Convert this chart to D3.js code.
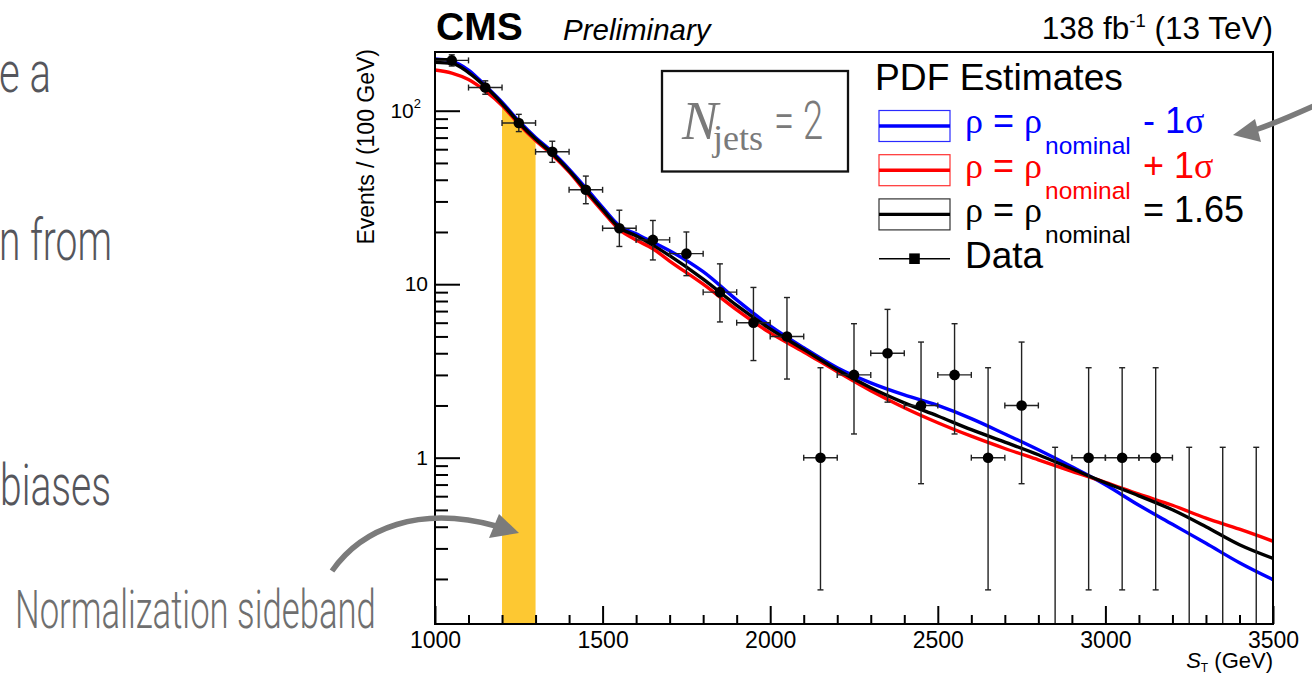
<!DOCTYPE html>
<html>
<head>
<meta charset="utf-8">
<script src="https://cdn.jsdelivr.net/npm/d3@7"></script>
<style>
  html, body { margin: 0; padding: 0; background: #fff; overflow: hidden; }
  svg { display: block; }
</style>
</head>
<body>
<svg id="chart" width="1312" height="677"></svg>
<script>
// ---- data ---------------------------------------------------------------
// Observed events per 100 GeV bin of S_T
const binCenters = [1050, 1150, 1250, 1350, 1450, 1550, 1650, 1750, 1850, 1950,
                    2050, 2150, 2250, 2350, 2450, 2550, 2650, 2750, 2850, 2950,
                    3050, 3150, 3250, 3350, 3450];
const counts     = [195, 136, 85, 58, 35, 21, 18, 15, 9, 6,
                    5, 1, 3, 4, 2, 3, 1, 2, 0, 1,
                    1, 1, 0, 0, 0];
// Poisson (Garwood) interval edges for each bin
const countLow   = [181.0, 124.4, 75.8, 50.4, 29.1, 16.5, 13.8, 11.2, 6.06, 3.63,
                    2.84, 0.173, 1.37, 2.09, 0.708, 1.37, 0.173, 0.708, 0, 0.173,
                    0.173, 0.173, 0, 0, 0];
const countHigh  = [210.0, 148.7, 95.3, 66.7, 42.0, 26.7, 23.3, 20.0, 13.1, 9.58,
                    8.38, 3.30, 5.92, 7.16, 4.64, 5.92, 3.30, 4.64, 1.148, 3.30,
                    3.30, 3.30, 1.148, 1.148, 1.148];
const binHalfWidth = 50;

// PDF estimates sampled along S_T
const fitX = [1000, 1050, 1100, 1150, 1200, 1250, 1300, 1350, 1400, 1450, 1500,
              1550, 1600, 1650, 1700, 1800, 1900, 2000, 2100, 2200, 2300, 2400,
              2500, 2600, 2700, 2800, 2900, 3000, 3100, 3200, 3300, 3400, 3500];
const pdfMinus1Sigma = [198.6, 193.3, 171.6, 139.7, 112.2, 87.2, 70.1, 57.8, 46.1, 35.9, 27.7,
                        21.7, 19.5, 17.5, 15.6, 11.8, 8.12, 5.75, 4.30, 3.30, 2.70, 2.30,
                        2.00, 1.68, 1.37, 1.11, 0.886, 0.698, 0.532, 0.413, 0.321, 0.248, 0.198];
const pdfPlus1Sigma  = [171.6, 164.9, 151.2, 129.9, 107.2, 83.8, 67.3, 55.6, 44.4, 34.0, 26.3,
                        20.6, 18.0, 16.0, 13.6, 10.0, 7.11, 5.24, 4.07, 3.13, 2.43, 1.94,
                        1.59, 1.33, 1.13, 0.972, 0.835, 0.722, 0.616, 0.532, 0.448, 0.387, 0.330];
const pdfNominal     = [190.0, 187.7, 166.0, 137.8, 110.0, 85.5, 68.7, 56.7, 45.2, 34.9, 27.0,
                        21.2, 19.0, 16.8, 14.6, 10.7, 7.55, 5.53, 4.21, 3.21, 2.53, 2.07,
                        1.74, 1.45, 1.23, 1.04, 0.863, 0.717, 0.603, 0.501, 0.400, 0.315, 0.263];

const sidebandRange = [1200, 1300];

const xMajorTicks = [1000, 1500, 2000, 2500, 3000, 3500];
const xMinorTicks = d3.range(1100, 3500, 100).filter(v => v % 500 !== 0);
const yMajorTicks = [1, 10, 100];
const yMinorTicks = [0.2, 0.3, 0.4, 0.5, 0.6, 0.7, 0.8, 0.9,
                     2, 3, 4, 5, 6, 7, 8, 9,
                     20, 30, 40, 50, 60, 70, 80, 90, 200];

const legendEntries = [
  { color: "#0000ff", box: "#2a2aff", suffix: "- 1", greek: "σ" },
  { color: "#ff0000", box: "#ff3030", suffix: "+ 1", greek: "σ" },
  { color: "#000000", box: "#333333", suffix: "= 1.65", greek: "" }
];

// ---- layout -------------------------------------------------------------
const frame = { left: 435, right: 1273, top: 52, bottom: 624 };
const SANS = "'Liberation Sans', Arial, Helvetica, sans-serif";
const SERIF = "'Liberation Serif', 'Times New Roman', serif";
const SLIDE = "Roboto, 'Noto Sans', sans-serif";

const svg = d3.select("#chart");
svg.append("rect").attr("width", 1312).attr("height", 677).attr("fill", "#fff");

const x = d3.scaleLinear().domain([1000, 3500]).range([frame.left, frame.right]);
const y = d3.scaleLog().domain([0.11, 218]).range([frame.bottom, frame.top]);

svg.append("defs").append("clipPath").attr("id", "plotClip")
  .append("rect")
  .attr("x", frame.left).attr("y", frame.top)
  .attr("width", frame.right - frame.left).attr("height", frame.bottom - frame.top);

const plot = svg.append("g").attr("clip-path", "url(#plotClip)");

// normalization sideband, filled under the nominal estimate
const fitPts = (vals) => fitX.map((xv, i) => [xv, vals[i]]);
const sbPts = fitPts(pdfNominal).filter(d => d[0] >= sidebandRange[0] && d[0] <= sidebandRange[1]);
plot.append("path")
  .datum(sbPts)
  .attr("fill", "#fdc832")
  .attr("d", d3.area()
    .x(d => x(d[0]))
    .y0(frame.bottom)
    .y1(d => y(d[1]))
    .curve(d3.curveMonotoneX));

// PDF estimate curves
const line = d3.line().x(d => x(d[0])).y(d => y(d[1])).curve(d3.curveMonotoneX);
[[pdfMinus1Sigma, "#0000ff"], [pdfPlus1Sigma, "#ff0000"], [pdfNominal, "#000000"]]
  .forEach(([vals, col]) => {
    plot.append("path")
      .datum(fitPts(vals))
      .attr("fill", "none")
      .attr("stroke", col)
      .attr("stroke-width", 3.4)
      .attr("stroke-linejoin", "round")
      .attr("d", line);
  });

// data with error bars
const dataG = svg.append("g").attr("stroke", "#222").attr("stroke-width", 1.4);
const bins = binCenters.map((c, i) => ({ c, n: counts[i], lo: countLow[i], hi: countHigh[i] }));
const cap = 3;
bins.forEach(b => {
  const cx = x(b.c);
  const yTop = y(b.hi);
  const yBot = b.lo > 0 ? y(b.lo) : frame.bottom;
  dataG.append("line").attr("x1", cx).attr("x2", cx).attr("y1", yTop).attr("y2", yBot);
  dataG.append("line").attr("x1", cx - cap).attr("x2", cx + cap).attr("y1", yTop).attr("y2", yTop);
  if (b.lo > 0) {
    dataG.append("line").attr("x1", cx - cap).attr("x2", cx + cap).attr("y1", yBot).attr("y2", yBot);
  }
  if (b.n > 0) {
    const cy = y(b.n);
    const xl = x(b.c - binHalfWidth), xr = x(b.c + binHalfWidth);
    dataG.append("line").attr("x1", xl).attr("x2", xr).attr("y1", cy).attr("y2", cy);
    dataG.append("line").attr("x1", xl).attr("x2", xl).attr("y1", cy - cap).attr("y2", cy + cap);
    dataG.append("line").attr("x1", xr).attr("x2", xr).attr("y1", cy - cap).attr("y2", cy + cap);
  }
});
svg.append("g").selectAll("circle")
  .data(bins.filter(b => b.n > 0))
  .join("circle")
  .attr("cx", d => x(d.c))
  .attr("cy", d => y(d.n))
  .attr("r", 5.3)
  .attr("fill", "#000");

// ---- axes ---------------------------------------------------------------
function styleAxis(g) {
  g.select(".domain").remove();
  g.selectAll(".tick line").attr("stroke", "#000").attr("stroke-width", 2);
  g.selectAll(".tick text").attr("fill", "#000").attr("font-family", SANS);
}
function minorAxis(g) {
  styleAxis(g);
  g.selectAll(".tick text").remove();
}

const xAxisG = svg.append("g")
  .attr("transform", `translate(0,${frame.bottom})`)
  .call(d3.axisBottom(x).tickValues(xMajorTicks).tickSize(-18).tickSizeOuter(0)
        .tickPadding(8).tickFormat(d3.format("d")))
  .call(styleAxis);
xAxisG.selectAll(".tick text").attr("font-size", 23);

svg.append("g")
  .attr("transform", `translate(0,${frame.bottom})`)
  .call(d3.axisBottom(x).tickValues(xMinorTicks).tickSize(-9).tickSizeOuter(0))
  .call(minorAxis);

const yAxisG = svg.append("g")
  .attr("transform", `translate(${frame.left},0)`)
  .call(d3.axisLeft(y).tickValues(yMajorTicks).tickSize(-25).tickSizeOuter(0)
        .tickPadding(7).tickFormat(d => d === 100 ? "10" : d3.format("d")(d)))
  .call(styleAxis);
yAxisG.selectAll(".tick text").attr("font-size", 21);
yAxisG.selectAll(".tick").filter(d => d === 100).select("text")
  .attr("x", -14)
  .append("tspan").attr("font-size", 13).attr("dy", "-0.75em").text("2");

svg.append("g")
  .attr("transform", `translate(${frame.left},0)`)
  .call(d3.axisLeft(y).tickValues(yMinorTicks).tickSize(-13).tickSizeOuter(0))
  .call(minorAxis);

// frame
svg.append("rect")
  .attr("x", frame.left).attr("y", frame.top)
  .attr("width", frame.right - frame.left).attr("height", frame.bottom - frame.top)
  .attr("fill", "none").attr("stroke", "#000").attr("stroke-width", 2);

// axis titles
const xt = svg.append("text")
  .attr("x", frame.right).attr("y", 668)
  .attr("text-anchor", "end")
  .attr("font-family", SANS).attr("font-size", 22).attr("fill", "#000");
xt.append("tspan").attr("font-style", "italic").text("S");
xt.append("tspan").attr("font-size", 12).attr("dy", 4).text("T");
xt.append("tspan").attr("dy", -4).text(" (GeV)");

svg.append("text")
  .attr("transform", `translate(374,${frame.top - 3}) rotate(-90)`)
  .attr("text-anchor", "end")
  .attr("font-family", SANS).attr("font-size", 23).attr("fill", "#000")
  .text("Events / (100 GeV)");

// header labels
svg.append("text")
  .attr("x", 436).attr("y", 40)
  .attr("font-family", SANS).attr("font-weight", "bold").attr("font-size", 39)
  .text("CMS");
svg.append("text")
  .attr("x", 563).attr("y", 40)
  .attr("font-family", SANS).attr("font-style", "italic").attr("font-size", 29.5)
  .text("Preliminary");
const lumi = svg.append("text")
  .attr("x", frame.right).attr("y", 39)
  .attr("text-anchor", "end")
  .attr("font-family", SANS).attr("font-size", 31.5);
lumi.append("tspan").text("138 fb");
lumi.append("tspan").attr("font-size", 18.5).attr("dy", -12).text("-1");
lumi.append("tspan").attr("dy", 12).text(" (13 TeV)");

// ---- legend -------------------------------------------------------------
const leg = svg.append("g");
leg.append("text")
  .attr("x", 875).attr("y", 90)
  .attr("font-family", SANS).attr("font-size", 37.2)
  .text("PDF Estimates");

legendEntries.forEach((e, i) => {
  const cy = 126 + i * 44.2;
  leg.append("rect")
    .attr("x", 879).attr("y", cy - 15.5).attr("width", 71).attr("height", 31)
    .attr("fill", "none").attr("stroke", e.box).attr("stroke-width", 1.2);
  leg.append("line")
    .attr("x1", 879).attr("x2", 950).attr("y1", cy).attr("y2", cy)
    .attr("stroke", e.color).attr("stroke-width", 3.4);
  const base = cy + 7.3;
  const t = leg.append("text")
    .attr("x", 965).attr("y", base)
    .attr("font-family", SANS).attr("font-size", 36).attr("fill", e.color);
  t.append("tspan").attr("font-family", SERIF).text("ρ");
  t.append("tspan").text(" = ");
  t.append("tspan").attr("font-family", SERIF).text("ρ");
  t.append("tspan").attr("x", 1045).attr("dy", 21).attr("font-size", 24.5).text("nominal");
  t.append("tspan").attr("x", 1143).attr("dy", -21).text(e.suffix);
  if (e.greek) t.append("tspan").attr("font-family", SERIF).text(e.greek);
});

// data legend entry
leg.append("line")
  .attr("x1", 879).attr("x2", 950).attr("y1", 258.7).attr("y2", 258.7)
  .attr("stroke", "#000").attr("stroke-width", 1.4);
leg.append("rect")
  .attr("x", 914.5 - 5.3).attr("y", 258.7 - 5.3).attr("width", 10.6).attr("height", 10.6)
  .attr("fill", "#000");
leg.append("text")
  .attr("x", 965).attr("y", 268)
  .attr("font-family", SANS).attr("font-size", 37)
  .text("Data");

// condensed light text: natural width measured, then squeezed horizontally
function condensedText(parent, str, x0, baseline, width, size, color) {
  const g = parent.append("g");
  const t = g.append("text")
    .attr("font-family", SLIDE).attr("font-weight", 300).attr("font-size", size)
    .attr("fill", color).text(str);
  const natural = t.node().getComputedTextLength();
  g.attr("transform", `translate(${x0},${baseline}) scale(${width / natural},1)`);
  return g;
}

// ---- N_jets box ---------------------------------------------------------
svg.append("rect")
  .attr("x", 662).attr("y", 71).attr("width", 186).attr("height", 100.5)
  .attr("fill", "#fff").attr("stroke", "#111").attr("stroke-width", 2.3);
svg.append("text")
  .attr("x", 682).attr("y", 138.5)
  .attr("font-family", SERIF).attr("font-style", "italic").attr("font-size", 54)
  .attr("fill", "#7a7a7a")
  .text("N");
svg.append("text")
  .attr("x", 713).attr("y", 150)
  .attr("font-family", SERIF).attr("font-size", 36)
  .attr("fill", "#7a7a7a")
  .text("jets");
condensedText(svg, "= 2", 774, 139.3, 49, 53, "#7a7a7a");

// ---- slide annotations --------------------------------------------------
const slideText = [
  { t: "e a",    x: -1, y: 92,  w: 52 },
  { t: "n from", x: -1, y: 260, w: 113 },
  { t: "biases", x: 0,  y: 505, w: 111 }
];
slideText.forEach(s => condensedText(svg, s.t, s.x, s.y, s.w, 57, "#55565c"));
condensedText(svg, "Normalization sideband", 15, 628, 361, 53, "#6f6f6f");

// curved pointer arrows
const arrowCol = "#7b7b7b";
svg.append("path")
  .attr("d", "M332,571 C362,528 420,505 496,526")
  .attr("fill", "none").attr("stroke", arrowCol).attr("stroke-width", 5.5);
svg.append("polygon")
  .attr("points", "519,533 489,538 499,514")
  .attr("fill", arrowCol);
svg.append("path")
  .attr("d", "M1316,105 C1296,114 1276,123 1255,130")
  .attr("fill", "none").attr("stroke", arrowCol).attr("stroke-width", 5.5);
svg.append("polygon")
  .attr("points", "1233,135 1255,119 1261,142")
  .attr("fill", arrowCol);
</script>
</body>
</html>
